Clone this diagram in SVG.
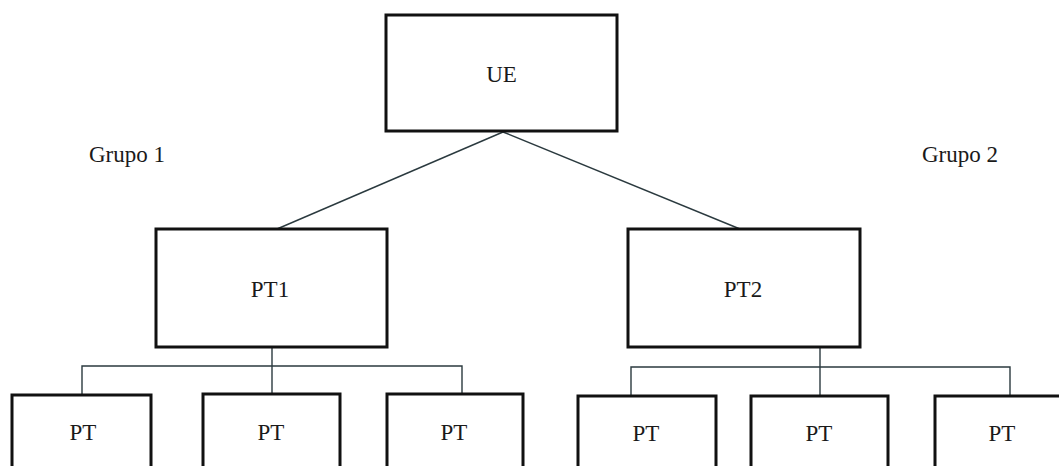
<svg xmlns="http://www.w3.org/2000/svg" width="1059" height="466" viewBox="0 0 1059 466">
  <style>
    .box { fill: #ffffff; stroke: #111111; stroke-width: 3; }
    .lbl { font-family: 'Liberation Serif', 'DejaVu Serif', serif; font-size: 23px; fill: #1a1a1a; text-anchor: middle; }
    .grp { font-family: 'Liberation Serif', 'DejaVu Serif', serif; font-size: 23px; fill: #1a1a1a; }
    .wire { fill: none; stroke: #2b3a3f; stroke-width: 1.4; }
  </style>
  <rect width="1059" height="466" fill="#ffffff"/>

  <!-- connectors -->
  <g id="connectors" class="wire">
    <line x1="503" y1="132" x2="277" y2="229"/>
    <line x1="503" y1="132" x2="740" y2="229"/>
    <!-- group 1 bus -->
    <polyline points="272,347 272,394"/>
    <polyline points="82,394 82,366 462,366 462,394"/>
    <!-- group 2 bus -->
    <polyline points="820,347 820,396"/>
    <polyline points="631,396 631,367 1010,367 1010,396"/>
  </g>

  <g id="ue">
    <rect class="box" x="386" y="15" width="231" height="116"/>
    <text class="lbl" x="501.5" y="82" font-family="Liberation Serif, serif">UE</text>
  </g>

  <text id="grupo1" class="grp" x="89" y="162">Grupo 1</text>
  <text id="grupo2" class="grp" x="922" y="162">Grupo 2</text>

  <g id="pt1">
    <rect class="box" x="156" y="229" width="231" height="118"/>
    <text class="lbl" x="270" y="297">PT1</text>
  </g>
  <g id="pt2">
    <rect class="box" x="628" y="229" width="232" height="118"/>
    <text class="lbl" x="743" y="297">PT2</text>
  </g>

  <!-- group 1 leaves -->
  <g id="pt1a">
    <rect class="box" x="12" y="395" width="139" height="90"/>
    <text class="lbl" x="83" y="440">PT</text>
  </g>
  <g id="pt1b">
    <rect class="box" x="203" y="394" width="137" height="90"/>
    <text class="lbl" x="271" y="440">PT</text>
  </g>
  <g id="pt1c">
    <rect class="box" x="387" y="394" width="136" height="90"/>
    <text class="lbl" x="454" y="440">PT</text>
  </g>

  <!-- group 2 leaves -->
  <g id="pt2a">
    <rect class="box" x="578" y="396" width="138" height="90"/>
    <text class="lbl" x="646" y="441">PT</text>
  </g>
  <g id="pt2b">
    <rect class="box" x="751" y="396" width="137" height="90"/>
    <text class="lbl" x="819" y="441">PT</text>
  </g>
  <g id="pt2c">
    <rect class="box" x="935" y="396" width="137" height="90"/>
    <text class="lbl" x="1002" y="441">PT</text>
  </g>
</svg>
